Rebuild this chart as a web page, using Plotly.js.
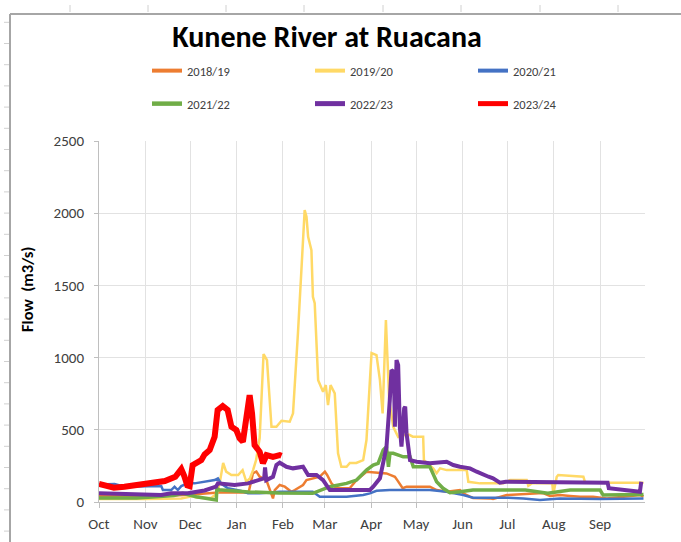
<!DOCTYPE html>
<html><head><meta charset="utf-8">
<script src="https://cdn.plot.ly/plotly-3.0.1.min.js"></script>
<style>html,body{margin:0;padding:0;background:#fff;overflow:hidden;} #chart{width:681px;height:542px;}</style>
</head><body><div id="chart"></div>
<script>
// ---- axis ticks ----
const monthTickDays = [0, 31, 61, 92, 123, 151, 182, 212, 243, 273, 304, 335];
const monthLabels = ['Oct','Nov','Dec','Jan','Feb','Mar','Apr','May','Jun','Jul','Aug','Sep'];
const yTicks = [0, 500, 1000, 1500, 2000, 2500];
const seriesNames = ['2018/19','2019/20','2020/21','2021/22','2022/23','2023/24'];

// ---- series: day of hydrological year (0 = 1 Oct) and flow (m3/s) ----
const days1819 = [0,40,60,80,100,102.9,105.2,107.4,111.9,114.1,116.3,117.5,120.8,124.2,128.6,130.9,136.4,138.7,143.1,147.6,151,152.5,155.4,157.6,161,167.7,172.2,178.8,192.2,197.8,199.5,203,205.6,221.2,225.7,232.4,241.3,243.5,248,250,261.4,263.4,272.6,294.8,296.9,301.5,308.2,314.9,321.6,330.3,339.5,361.8,364];
const flow1819 = [40,40,50,65,65,200,210,175,152,83,25,83,118,106,71,83,118,152,164,175,210,187,129,106,95,97,152,210,198,175,150,95,106,106,83,71,83,60,37,28,25,21,48,60,62,42,48,42,37,37,25,48,37];

const days1920 = [0,15,30,45,55,62,66,75,79,81,83,85,88.5,93,96,98.5,101,103,105,107.4,109,110,112.3,114,115.3,118.6,122,127.5,129.7,133,135.3,137.5,138.7,139.8,142,143,144.2,146.5,149.8,151.6,153.1,154.8,157.6,159.8,162,165.5,167.7,172,176.6,178.8,181,182.2,185.5,187.8,189.6,190.6,191.8,192.6,194,196.7,200,206.5,209.8,216.7,217.2,223.4,225.7,228,232.4,245.8,246.9,254.7,263.6,270.3,274.8,285.9,287,289.3,303,303.7,306,307,323.8,325,364];
const flow1920 = [20,18,20,22,25,40,30,28,60,150,270,210,187,187,221,140,166,221,290,443,800,1024,983,706,521,521,563,556,614,1169,1628,2021,1975,1836,1744,1421,1377,844,763,810,671,810,752,337,244,244,270,270,290,429,823,1031,1017,844,614,936,1260,1052,706,521,450,470,452,452,290,233,200,233,221,221,140,129,129,129,152,152,113,129,129,55,175,187,175,134,134];

const days2021 = [0,10.4,17,30.5,41.6,42.7,48.3,50.5,52.7,55,59.4,63.9,70.6,77.3,79.5,81.8,86.2,95.2,99.6,107.4,120.8,142.9,147.6,165.5,176.6,181.1,185.5,194.4,221.2,232.4,243.5,250,272.8,283.7,294.8,308.2,335,364];
const flow2021 = [122,125,106,110,110,83,83,106,83,110,129,129,140,152,164,125,95,76,60,60,71,71,37,37,48,60,78,83,83,71,48,30,30,25,14,25,20,25];

const days2122 = [0,25,38,50,56,65,78.4,78.8,80,100,120,142.9,154.3,165.5,172.2,178.8,183.3,186.6,190,192.2,193.5,194.5,196.7,203.4,207.9,210.1,221.2,225.7,230,234.6,241.3,250,285,300,315,335,337,352,364];
const flow2122 = [28,28,37,45,60,37,14,95,85,70,62,60,106,129,152,221,256,268,360,383,244,337,337,313,313,244,244,140,95,64,71,83,83,60,83,83,48,48,52];

const days2223 = [0,27,41.6,48.3,59.4,70.6,78.2,79.5,90.6,99.6,102.9,110.4,111,111.8,116.3,118.6,120.8,125.3,129.7,136.4,139.8,145.4,149.8,154.3,181.1,183.3,187.8,192.2,194.4,195.5,197.1,197.8,198.9,200,201.1,202.2,204,204.7,205.6,207.9,212.4,221.2,232.4,236.8,241.3,248,252.5,256.9,260.4,263.4,268,272,340,340.8,346.4,361.6,362.5];
const flow2223 = [60,48,48,60,60,80,106,129,118,129,140,164,240,152,175,256,272,244,233,244,187,187,152,83,83,106,164,383,706,913,902,521,983,948,521,383,648,660,475,290,279,268,279,256,244,233,210,187,175,164,134,140,134,95,88,71,140];

const days2324 = [0,6,10,17,26,36,44,51,55,57,59,60.6,62.6,68.4,70.6,74,77.3,79.3,82.7,86,88.5,91.8,94,96.2,98.5,100.7,102.3,104,107.4,109.6,112,116.3,120.8,122];
const flow2324 = [125,106,99,106,122,131,145,175,228,180,115,110,256,290,330,360,452,637,664,637,521,498,441,417,567,740,614,394,348,268,325,313,325,320];

// ---- styling ----
const FONT = 'Carlito, Lato, "Open Sans", sans-serif';
const colors = ['#ED7D31','#FFD966','#4472C4','#70AD47','#7030A0','#FF0000'];
const widths = [2.5, 2.5, 2.5, 3.5, 4, 6];
const legendWidths = [4, 4, 4, 4.5, 5, 5];
const allDays = [days1819, days1920, days2021, days2122, days2223, days2324];
const allFlows = [flow1819, flow1920, flow2021, flow2122, flow2223, flow2324];

const traces = seriesNames.map((name, i) => ({
  type: 'scatter', mode: 'lines', name: name,
  x: allDays[i], y: allFlows[i],
  line: {color: colors[i], width: widths[i]},
  showlegend: false, hoverinfo: 'skip'
}));
// legend keys (Excel draws all legend keys with a heavier stroke)
const legendKeys = seriesNames.map((name, i) => ({
  type: 'scatter', mode: 'lines', name: name,
  x: [null], y: [null],
  line: {color: colors[i], width: legendWidths[i]},
  legend: i < 3 ? 'legend' : 'legend2', hoverinfo: 'skip'
}));

// page geometry (px) for the plot area
const W = 681, H = 542, ML = 99, MR = 36, MT = 141, MB = 40;
const PW = W - ML - MR, PH = H - MT - MB;
const px = v => (v - ML) / PW;
const py = v => (H - MB - v) / PH;

const shapes = [];
const frameColor = '#A6A6A6', sheetTick = '#D0D0D0';
shapes.push({type:'line', xref:'paper', yref:'paper', x0:px(10), x1:px(10), y0:py(560), y1:py(14), line:{color:frameColor, width:2}});
shapes.push({type:'line', xref:'paper', yref:'paper', x0:px(10), x1:px(700), y0:py(14), y1:py(14), line:{color:frameColor, width:2}});
[70,148,226,304,383,461,540,618].forEach(x => shapes.push({type:'line', xref:'paper', yref:'paper', x0:px(x), x1:px(x), y0:py(5), y1:py(12), line:{color:sheetTick, width:1}}));
for (let k = -5; k <= 19; k++) {
  const y = 128.3 + 21.2 * k;
  shapes.push({type:'line', xref:'paper', yref:'paper', x0:px(4), x1:px(9), y0:py(y), y1:py(y), line:{color:sheetTick, width:1}});
}

const legendBase = {
  orientation: 'h', xref: 'container', yref: 'container', xanchor: 'left', yanchor: 'middle',
  x: 147 / W, entrywidth: 118, entrywidthmode: 'pixels', itemwidth: 30,
  font: {family: FONT, size: 12.5, color: '#404040'}, bgcolor: 'rgba(0,0,0,0)', traceorder: 'normal'
};

const layout = {
  width: W, height: H,
  margin: {l: ML, r: MR, t: MT, b: MB, pad: 0},
  paper_bgcolor: '#fff', plot_bgcolor: '#fff',
  showlegend: true,
  title: {text: '<b>Kunene River at Ruacana</b>', font: {family: FONT, size: 30, color: '#000'},
          xref: 'container', yref: 'container', x: 327 / W, xanchor: 'center', y: 1 - 36 / H, yanchor: 'middle'},
  legend: Object.assign({}, legendBase, {y: 1 - 71 / H}),
  legend2: Object.assign({}, legendBase, {y: 1 - 104 / H}),
  xaxis: {
    range: [0, 365], tickmode: 'array', tickvals: monthTickDays, ticktext: monthLabels,
    showgrid: true, gridcolor: '#E2E2E2', gridwidth: 1, zeroline: false,
    showline: true, linecolor: '#BFBFBF', linewidth: 1,
    ticks: 'outside', ticklen: 5, tickcolor: '#BFBFBF', ticklabelstandoff: 3,
    tickfont: {family: FONT, size: 15, color: '#404040'}, fixedrange: true
  },
  yaxis: {
    range: [0, 2500], tickmode: 'array', tickvals: yTicks,
    showgrid: true, gridcolor: '#E2E2E2', gridwidth: 1, zeroline: false,
    showline: true, linecolor: '#BFBFBF', linewidth: 1,
    ticks: 'outside', ticklen: 4, tickcolor: '#BFBFBF', ticklabelstandoff: 7,
    tickfont: {family: FONT, size: 15, color: '#404040'}, fixedrange: true
  },
  annotations: [{
    text: '<b>Flow \u00a0(m3/s)</b>', textangle: -90, xref: 'paper', yref: 'paper',
    x: px(27), y: py(289), xanchor: 'center', yanchor: 'middle', showarrow: false,
    font: {family: FONT, size: 16.5, color: '#000'}
  }],
  shapes: shapes
};

Plotly.newPlot('chart', traces.concat(legendKeys), layout, {displayModeBar: false, staticPlot: true});
</script></body></html>
